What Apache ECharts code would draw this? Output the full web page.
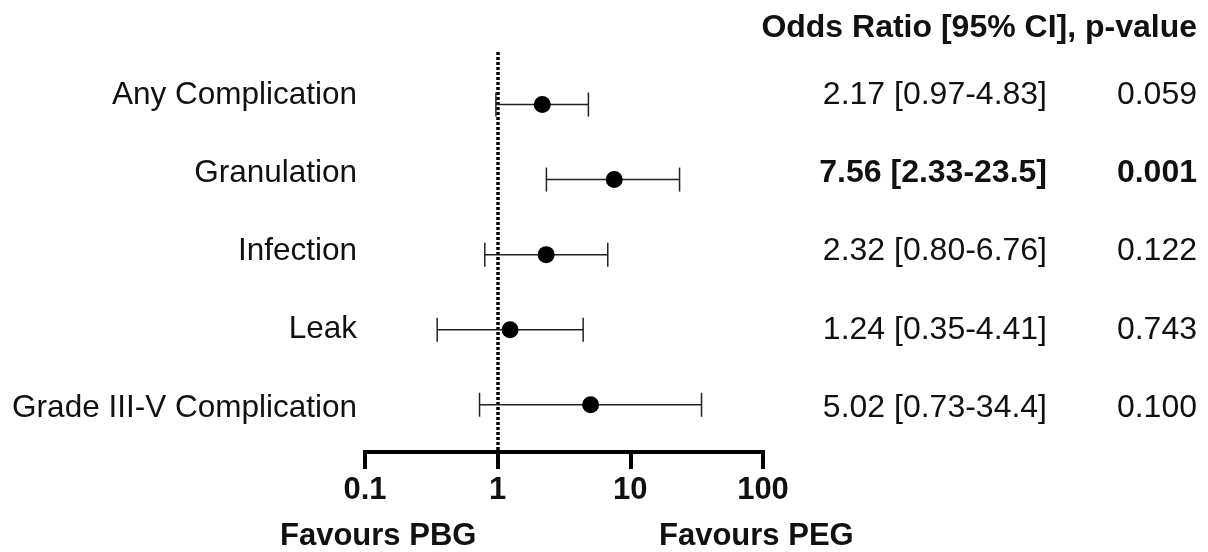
<!DOCTYPE html>
<html>
<head>
<meta charset="utf-8">
<script src="https://cdn.jsdelivr.net/npm/echarts@6/dist/echarts.min.js"></script>
<style>
html,body{margin:0;padding:0;background:#fff;}
#main{width:1208px;height:552px;}
</style>
</head>
<body>
<div id="main"></div>
<script>
const rowNames = ['Any Complication', 'Granulation', 'Infection', 'Leak', 'Grade III-V Complication'];
const oddsRatio = [2.17, 7.56, 2.32, 1.24, 5.02];
const ciLow = [0.97, 2.33, 0.80, 0.35, 0.73];
const ciHigh = [4.83, 23.5, 6.76, 4.41, 34.4];
const ciText = ['2.17 [0.97-4.83]', '7.56 [2.33-23.5]', '2.32 [0.80-6.76]', '1.24 [0.35-4.41]', '5.02 [0.73-34.4]'];
const pValues = ['0.059', '0.001', '0.122', '0.743', '0.100'];
const boldRows = [false, true, false, false, false];
const xTicks = [0.1, 1, 10, 100];
const headerText = 'Odds Ratio [95% CI], p-value';
const leftFavour = 'Favours PBG';
const rightFavour = 'Favours PEG';

const FONT = 'Liberation Sans, Arial, sans-serif';
const rowIdx = rowNames.map((_, i) => i);

const chart = echarts.init(document.getElementById('main'), null, {renderer: 'canvas'});

function richFmt(arr, useBold) {
  return function (v) {
    const i = Math.round(v);
    return (useBold && boldRows[i]) ? '{b|' + arr[i] + '}' : '{n|' + arr[i] + '}';
  };
}
const rich = {
  n: {fontFamily: FONT, fontSize: 32, color: '#111'},
  b: {fontFamily: FONT, fontSize: 32, color: '#111', fontWeight: 'bold'}
};
const richLeft = {
  n: {fontFamily: FONT, fontSize: 31.5, color: '#111'}
};

// plot rows axis (marks)
const plotY = {
  type: 'value', inverse: true, min: -0.7, max: 4.63, show: false,
  axisLine: {show: false}, axisTick: {show: false}, splitLine: {show: false}
};
// text rows axis (labels are laid out on a slightly wider row pitch)
const textY = {
  type: 'value', inverse: true, min: -0.55, max: 4.562,
  axisLine: {show: false}, axisTick: {show: false}, splitLine: {show: false}
};

chart.setOption({
  backgroundColor: '#fff',
  animation: false,
  title: [
    {text: headerText, right: 11, top: 12, padding: 0,
     textStyle: {fontFamily: FONT, fontSize: 32, fontWeight: 'bold', color: '#111'}},
    {text: leftFavour, left: 280, top: 521, padding: 0,
     textStyle: {fontFamily: FONT, fontSize: 31, fontWeight: 'bold', color: '#111'}},
    {text: rightFavour, left: 659, top: 521, padding: 0,
     textStyle: {fontFamily: FONT, fontSize: 31, fontWeight: 'bold', color: '#111'}}
  ],
  grid: {left: 365, right: 445, top: 52, bottom: 100, containLabel: false},
  xAxis: {
    type: 'log', logBase: 10, min: 0.1, max: 100,
    axisLine: {show: true, onZero: false, lineStyle: {color: '#000', width: 4, cap: 'square'}},
    axisTick: {show: true, length: 17, lineStyle: {color: '#000', width: 4}, customValues: xTicks},
    minorTick: {show: false},
    splitLine: {show: false},
    axisLabel: {
      customValues: xTicks,
      margin: 23, fontFamily: FONT, fontSize: 31, fontWeight: 'bold', color: '#111',
      formatter: v => String(v)
    }
  },
  yAxis: [
    plotY,
    Object.assign({}, textY, {
      position: 'left',
      axisLabel: {customValues: rowIdx, margin: 8,
                  formatter: richFmt(rowNames, false), rich: richLeft}
    }),
    Object.assign({}, textY, {
      position: 'right',
      axisLabel: {customValues: rowIdx, margin: 284, align: 'right',
                  formatter: richFmt(ciText, true), rich: rich}
    }),
    Object.assign({}, textY, {
      position: 'right',
      axisLabel: {customValues: rowIdx, margin: 434, align: 'right',
                  formatter: richFmt(pValues, true), rich: rich}
    })
  ],
  series: [
    {
      type: 'custom',
      yAxisIndex: 0,
      clip: false,
      data: rowIdx.map(i => [i, ciLow[i], ciHigh[i]]),
      encode: {x: [1, 2], y: 0},
      renderItem: function (params, api) {
        const y = api.value(0);
        const p1 = api.coord([api.value(1), y]);
        const p2 = api.coord([api.value(2), y]);
        const h = 12;
        const st = {stroke: '#222', lineWidth: 1.5};
        return {
          type: 'group',
          children: [
            {type: 'line', shape: {x1: p1[0], y1: p1[1], x2: p2[0], y2: p2[1]}, style: st},
            {type: 'line', shape: {x1: p1[0], y1: p1[1] - h, x2: p1[0], y2: p1[1] + h}, style: st},
            {type: 'line', shape: {x1: p2[0], y1: p2[1] - h, x2: p2[0], y2: p2[1] + h}, style: st}
          ]
        };
      },
      z: 3
    },
    {
      type: 'scatter',
      yAxisIndex: 0,
      symbol: 'circle',
      symbolSize: 17,
      itemStyle: {color: '#000', opacity: 1},
      data: rowIdx.map(i => [oddsRatio[i], i]),
      z: 4,
      markLine: {
        silent: true,
        symbol: ['none', 'none'],
        label: {show: false},
        lineStyle: {color: '#000', width: 3.5, type: [3, 2], opacity: 1},
        data: [{xAxis: 1}],
        z: 2
      }
    }
  ]
});
</script>
</body>
</html>
